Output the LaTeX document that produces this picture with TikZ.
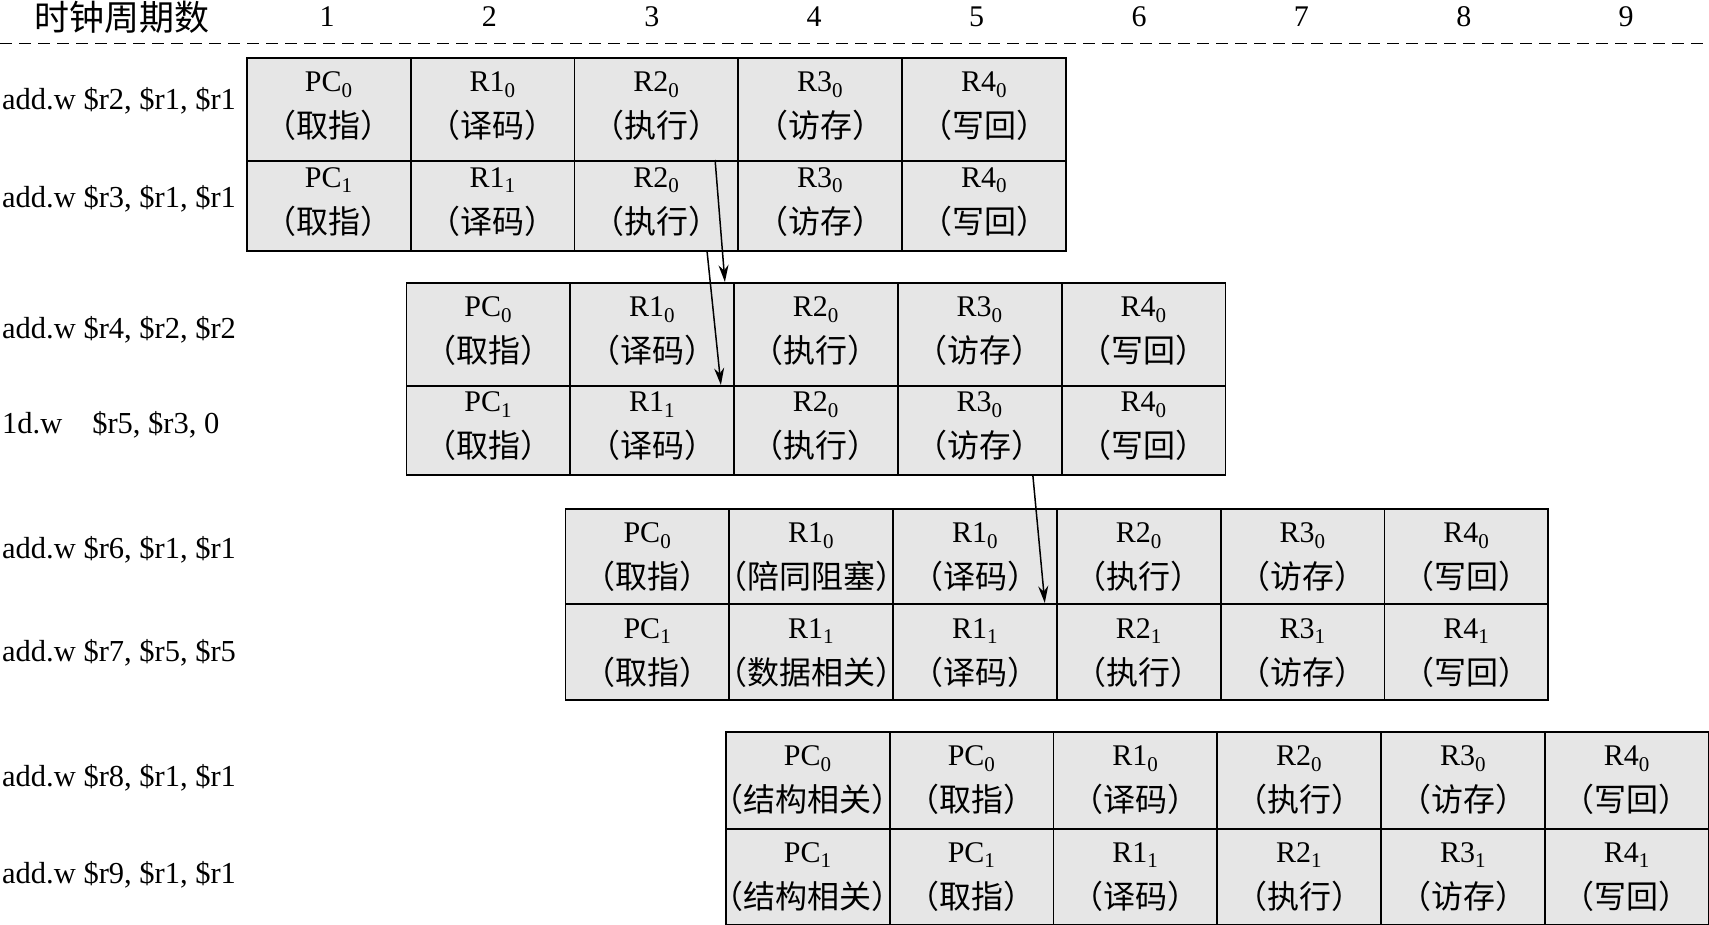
\documentclass[tikz,border=0pt]{standalone}
\usepackage{fontspec}
\setmainfont{Liberation Serif}
\newfontfamily\cjk{Noto Sans CJK SC}
\usetikzlibrary{arrows.meta,calc}
\definecolor{cellgray}{RGB}{230,230,230}
\newcommand\cw{163.8}
\newcommand\pipeRow[5]{%
  \foreach [count=\i] \a/\b in #5 {
    \node[cellbox, minimum height=#4] (#1c\i) at ({#2+(\i-1)*\cw},#3) {};
  }
}
\newcommand\pipeText[3]{%
  \foreach [count=\i] \a/\b in #3 {
    \node[celltext] (#1t\i) at ($(#1c\i.center)+(0,#2)$) {\a\\{\cjk\fontsize{32}{46}\selectfont （\b）}};
  }
}
\begin{document}
\begin{tikzpicture}[x=1pt,y=-1pt,
  cellbox/.style={draw=black,fill=cellgray,line width=1.8pt,minimum width=\cw pt,inner sep=0pt,anchor=north west},
  celltext/.style={align=center,font=\fontsize{30}{46}\selectfont,inner sep=0pt},
  lbl/.style={anchor=west,inner sep=0pt,font=\fontsize{30.5}{36}\selectfont},
  hdr/.style={inner sep=0pt,font=\fontsize{30}{36}\selectfont},
  sep/.style={line width=1.8pt,dash pattern=on 12pt off 7pt},
  arr/.style={line width=1.5pt,-{Stealth[length=17pt,width=10pt]}}]
\useasboundingbox (0,0) rectangle (1709,925);

% header
\node[hdr] (title) at (122,17) {\cjk\fontsize{35}{36}\selectfont 时钟周期数};
\foreach \n in {1,...,9} {
  \node[hdr] (cyc\n) at ({327+(\n-1)*162.4},17) {\n};
}
\coordinate (sepL) at (0,43.5);
\coordinate (sepR) at (1709,43.5);
\draw[sep] (sepL) -- (sepR);

% instruction labels
\node[lbl] (l1) at (2,101) {add.w \$r2, \$r1, \$r1};
\node[lbl] (l2) at (2,199) {add.w \$r3, \$r1, \$r1};
\node[lbl] (l3) at (2,330) {add.w \$r4, \$r2, \$r2};
\node[lbl] (l4) at (2,425) {1d.w\hspace{30pt}\$r5, \$r3, 0};
\node[lbl] (l5) at (2,550) {add.w \$r6, \$r1, \$r1};
\node[lbl] (l6) at (2,653) {add.w \$r7, \$r5, \$r5};
\node[lbl] (l7) at (2,778) {add.w \$r8, \$r1, \$r1};
\node[lbl] (l8) at (2,875) {add.w \$r9, \$r1, \$r1};

% data lists
\def\rowA{PC\textsubscript{0}/取指,R1\textsubscript{0}/译码,R2\textsubscript{0}/执行,R3\textsubscript{0}/访存,R4\textsubscript{0}/写回}
\def\rowB{PC\textsubscript{1}/取指,R1\textsubscript{1}/译码,R2\textsubscript{0}/执行,R3\textsubscript{0}/访存,R4\textsubscript{0}/写回}
\def\rowC{PC\textsubscript{0}/取指,R1\textsubscript{0}/陪同阻塞,R1\textsubscript{0}/译码,R2\textsubscript{0}/执行,R3\textsubscript{0}/访存,R4\textsubscript{0}/写回}
\def\rowD{PC\textsubscript{1}/取指,R1\textsubscript{1}/数据相关,R1\textsubscript{1}/译码,R2\textsubscript{1}/执行,R3\textsubscript{1}/访存,R4\textsubscript{1}/写回}
\def\rowE{PC\textsubscript{0}/结构相关,PC\textsubscript{0}/取指,R1\textsubscript{0}/译码,R2\textsubscript{0}/执行,R3\textsubscript{0}/访存,R4\textsubscript{0}/写回}
\def\rowF{PC\textsubscript{1}/结构相关,PC\textsubscript{1}/取指,R1\textsubscript{1}/译码,R2\textsubscript{1}/执行,R3\textsubscript{1}/访存,R4\textsubscript{1}/写回}

% block 1
\pipeRow{bAa}{246}{57}{103pt}{\rowA}
\pipeRow{bAb}{246}{160}{90pt}{\rowB}
\pipeText{bAa}{-3}{\rowA}
\pipeText{bAb}{-4}{\rowB}
% block 2
\pipeRow{bBa}{405.5}{282}{103pt}{\rowA}
\pipeRow{bBb}{405.5}{385}{89pt}{\rowB}
\pipeText{bBa}{-3}{\rowA}
\pipeText{bBb}{-4}{\rowB}
% block 3
\pipeRow{bCa}{564.6}{508}{95pt}{\rowC}
\pipeRow{bCb}{564.6}{603}{96pt}{\rowD}
\pipeText{bCa}{1}{\rowC}
\pipeText{bCb}{1}{\rowD}
% block 4
\pipeRow{bDa}{725}{731}{97pt}{\rowE}
\pipeRow{bDb}{725}{828}{96pt}{\rowF}
\pipeText{bDa}{0}{\rowE}
\pipeText{bDb}{0}{\rowF}

% dependency arrows
\coordinate (a1s) at ($(bAbc3.north west)+(141.5,0)$);
\coordinate (a1e) at ($(bBac2.north east)+(-10,0)$);
\coordinate (a2s) at ($(bAbc3.south west)+(133.5,0)$);
\coordinate (a2e) at ($(bBbc2.north east)+(-14,0)$);
\coordinate (a3s) at ($(bBbc4.south west)+(136,0)$);
\coordinate (a3e) at ($(bCbc3.north east)+(-13,0)$);
\draw[arr] (a1s) -- (a1e);
\draw[arr] (a2s) -- (a2e);
\draw[arr] (a3s) -- (a3e);
\end{tikzpicture}
\end{document}
